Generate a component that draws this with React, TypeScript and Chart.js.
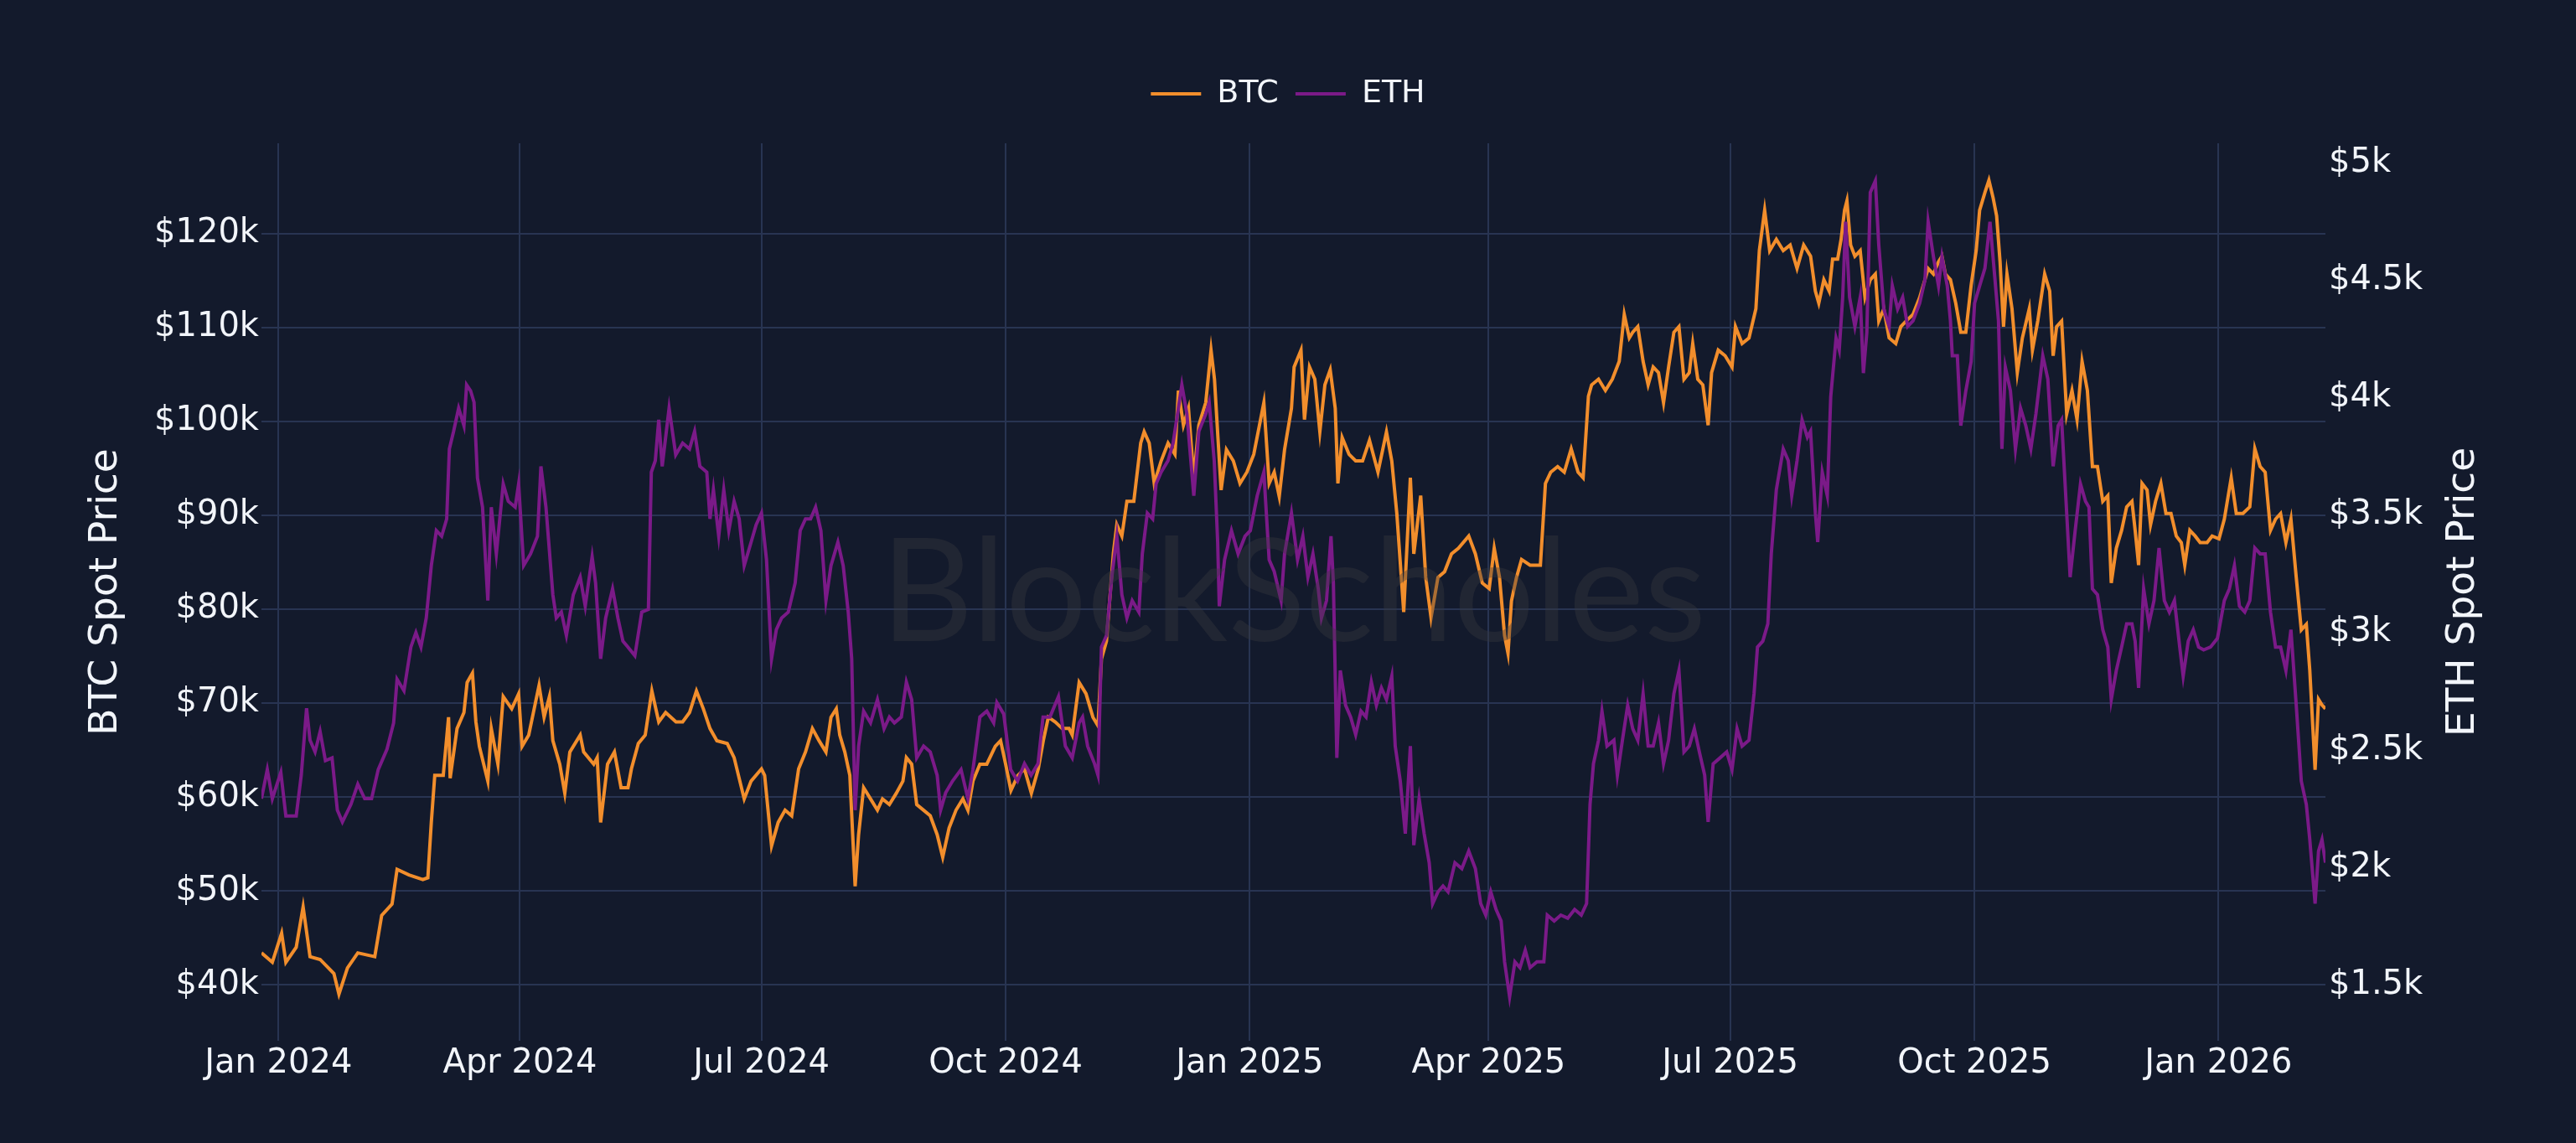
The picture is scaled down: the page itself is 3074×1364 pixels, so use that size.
import React, { useEffect, useRef } from "react";
import { Chart, registerables } from "chart.js";

Chart.register(...registerables);

// ---------------- data ----------------
// x values are days since 2024-01-01
const btcDays = [
  -6.4, -2.3, 1.2, 2.8, 6.7, 9.3, 11.9, 15.7, 20.9, 22.8, 26.0, 29.9, 36.3, 38.9, 42.8, 44.7, 49.2, 54.4, 56.3, 57.6,
  58.9, 62.1, 64.1, 64.7, 67.3, 69.9, 71.1, 73.1, 74.4, 75.7, 78.9, 80.2, 82.7, 84.7, 87.9, 90.5, 91.8, 94.3, 98.2, 100.1,
  102.1, 103.4, 106.0, 107.9, 109.8, 113.7, 115.0, 118.8, 120.1, 121.4, 124.0, 126.6, 129.1, 131.7, 133.0, 135.6, 138.2, 140.7, 143.3, 145.9,
  149.8, 152.3, 154.9, 157.5, 160.1, 162.6, 165.2, 169.1, 171.7, 175.5, 178.1, 182.0, 183.2, 185.8, 188.3, 190.9, 193.4, 196.0, 198.6, 201.2,
  203.7, 206.3, 208.2, 210.2, 211.5, 213.4, 215.3, 217.3, 218.6, 220.5, 223.1, 225.7, 227.6, 230.2, 232.8, 235.3, 236.6, 238.6, 240.5, 243.1,
  245.6, 248.2, 250.3, 252.7, 255.3, 257.9, 259.8, 261.7, 264.3, 266.9, 270.1, 272.1, 274.0, 276.0, 278.6, 281.1, 283.7, 286.3, 288.2, 290.1,
  292.7, 295.3, 297.9, 299.1, 301.7, 304.3, 306.9, 308.8, 310.1, 312.0, 314.6, 315.9, 317.8, 319.7, 322.3, 324.9, 326.2, 328.1, 330.0, 332.6,
  335.2, 337.8, 339.1, 341.0, 342.9, 344.9, 346.8, 349.4, 351.4, 352.7, 354.0, 355.2, 357.2, 359.8, 362.3, 364.9, 367.5, 371.3, 373.3, 375.2,
  377.1, 379.1, 381.7, 382.7, 385.3, 386.6, 388.5, 390.5, 392.4, 394.3, 396.3, 398.2, 399.2, 400.8, 403.4, 405.9, 408.5, 411.1, 414.3, 417.5,
  419.5, 421.4, 424.0, 426.5, 427.8, 430.4, 432.3, 434.3, 436.9, 439.4, 442.0, 444.6, 448.5, 451.0, 453.6, 456.2, 458.1, 460.1, 462.0, 463.3,
  464.6, 466.5, 468.4, 471.6, 475.5, 477.4, 479.4, 482.0, 484.5, 487.1, 489.7, 491.6, 493.6, 494.8, 497.4, 500.0, 502.6, 505.2, 507.1, 509.0,
  510.3, 512.2, 514.2, 516.1, 518.0, 520.0, 521.9, 523.8, 525.8, 527.7, 529.6, 531.6, 532.9, 534.8, 536.7, 538.7, 540.0, 542.5, 545.1, 547.7,
  549.0, 551.5, 554.1, 556.7, 558.0, 560.0, 561.9, 564.4, 567.0, 569.6, 572.2, 574.7, 577.3, 579.1, 580.4, 582.3, 584.3, 585.6, 587.5, 588.8,
  590.1, 591.0, 592.4, 594.0, 596.0, 597.8, 599.8, 601.7, 603.0, 604.9, 606.9, 609.4, 611.3, 613.3, 615.9, 618.4, 620.4, 621.6, 623.6, 625.5,
  626.8, 628.1, 630.0, 632.0, 633.9, 635.8, 637.8, 639.7, 641.0, 643.0, 644.5, 646.1, 647.4, 648.7, 650.0, 651.3, 653.2, 655.2, 657.1, 659.7,
  660.9, 662.9, 665.5, 667.4, 668.7, 670.0, 671.9, 673.8, 675.8, 677.7, 679.6, 681.6, 683.5, 685.4, 687.4, 689.3, 690.6, 692.5, 694.5, 696.4,
  698.4, 699.6, 700.9, 702.2, 704.1, 705.4, 707.3, 709.3, 711.2, 713.1, 715.1, 717.0, 718.3, 720.2, 722.2, 724.1, 726.7, 728.6, 731.2, 733.2,
  735.8, 737.7, 740.2, 742.8, 744.7, 746.7, 748.6, 750.6, 752.5, 754.4, 756.4, 758.3, 760.3, 762.2, 764.1, 765.4, 767.4, 768.7, 770.0, 771.3,
];
const btcPrices = [
  43400, 42400, 45500, 42400, 44000, 48300, 43000, 42700, 41200, 39000, 41800, 43400, 43000, 47400, 48600, 52300, 51700, 51200, 51400, 57300,
  62300, 62300, 68500, 62000, 67300, 69000, 72200, 73200, 68000, 65400, 61700, 67300, 63500, 70700, 69400, 71000, 65400, 66600, 71900, 68500,
  70700, 66000, 63500, 60400, 64800, 66600, 64800, 63500, 64200, 57300, 63500, 64800, 61000, 61000, 63000, 65700, 66600, 71300, 68000, 69000,
  68000, 68000, 69000, 71300, 69400, 67300, 66000, 65700, 64200, 59800, 61700, 63000, 62300, 54800, 57300, 58600, 58000, 63000, 64800, 67300,
  66000, 64800, 68500, 69400, 66600, 64800, 62300, 50500, 56000, 61000, 59800, 58600, 59800, 59200, 60400, 61700, 64200, 63500, 59200, 58600,
  58000, 56000, 53600, 56700, 58600, 59800, 58600, 61700, 63500, 63500, 65400, 66000, 63500, 60700, 62300, 63000, 60400, 63000, 66000, 68500,
  68000, 67300, 67300, 66600, 72200, 71000, 68500, 67600, 74700, 76600, 86000, 89000, 87800, 91500, 91500, 97700, 98900, 97700, 93400, 95800,
  97700, 96500, 103300, 99600, 101400, 94000, 99600, 102000, 107600, 104500, 98300, 92700, 97000, 95800, 93400, 94600, 96500, 102000, 93400, 94600,
  92000, 97000, 101400, 105800, 107600, 100200, 105800, 104500, 98900, 103900, 105500, 101400, 93400, 98300, 96500, 95800, 95800, 98000, 94600, 98900,
  95800, 90200, 79700, 94000, 85900, 92100, 83400, 79100, 83400, 84000, 85900, 86500, 87800, 85900, 82800, 82200, 86500, 83400, 77200, 75300,
  80900, 83400, 85300, 84700, 84700, 93400, 94600, 95200, 94600, 97100, 94600, 94000, 102700, 103900, 104500, 103300, 104500, 106400, 111400, 108900,
  109500, 110100, 106400, 103900, 105800, 105200, 102000, 105800, 109500, 110100, 104500, 105200, 108300, 104500, 103900, 99600, 105200, 107600, 107000, 105800,
  110100, 108300, 108900, 112000, 118200, 122500, 118200, 119400, 118200, 118800, 116300, 118800, 117600, 113900, 112600, 115100, 113900, 117300, 117300, 119400,
  122500, 123500, 118800, 117600, 118200, 113200, 115100, 115700, 110700, 112000, 108900, 108300, 110100, 110700, 111400, 113200, 115100, 116300, 115700, 117000,
  117600, 115700, 115100, 112600, 109500, 109500, 114500, 118200, 122500, 124400, 125700, 123800, 121900, 117000, 110100, 115700, 112000, 105200, 108900, 112000,
  107600, 110700, 115700, 113900, 107000, 110100, 110700, 100800, 103300, 100200, 106400, 103300, 95200, 95200, 91500, 92100, 82800, 86500, 88400, 90900,
  91500, 88400, 84700, 93400, 92700, 89000, 91500, 93400, 90200, 90200, 87800, 87100, 84700, 88400, 87800, 87100, 87100, 87800, 87500, 89600,
  94000, 90200, 90200, 90900, 97100, 95200, 94600, 88400, 89600, 90200, 87100, 89600, 83400, 77800, 78400, 73500, 62900, 70400, 69800, 69400,
];

const ethDays = [
  -6.4, -4.2, -2.3, 0.9, 2.8, 6.7, 8.6, 10.6, 11.9, 13.8, 15.7, 17.7, 20.2, 22.2, 24.1, 27.3, 29.9, 32.5, 35.1, 37.6,
  40.9, 43.4, 44.7, 47.3, 49.9, 51.8, 53.7, 55.7, 57.6, 59.5, 61.5, 63.4, 64.4, 66.0, 67.9, 69.9, 70.9, 72.4, 73.7, 75.0,
  76.9, 78.9, 80.2, 82.1, 84.7, 86.6, 89.2, 90.5, 92.4, 95.0, 97.6, 98.9, 100.8, 103.4, 104.7, 106.6, 108.5, 111.1, 113.7, 115.6,
  118.2, 119.5, 121.4, 123.3, 125.9, 127.9, 129.8, 131.7, 134.3, 136.9, 139.4, 140.5, 142.0, 143.3, 144.6, 147.2, 149.7, 152.3, 154.9, 156.8,
  158.8, 161.4, 162.6, 163.9, 165.9, 167.8, 169.7, 171.7, 173.6, 175.5, 178.1, 180.0, 182.0, 183.9, 185.8, 187.6, 189.6, 192.1, 194.7, 196.6,
  198.6, 200.5, 202.4, 204.4, 206.3, 208.2, 210.8, 212.8, 214.7, 216.0, 217.3, 218.6, 220.5, 223.1, 225.7, 228.2, 230.2, 232.1, 234.7, 236.6,
  238.6, 240.5, 243.1, 245.6, 248.2, 249.5, 251.4, 254.0, 257.2, 259.8, 261.7, 264.3, 266.9, 269.5, 270.7, 273.3, 275.9, 278.5, 281.1, 283.6,
  286.2, 288.1, 290.7, 293.9, 296.5, 299.1, 301.7, 303.0, 304.9, 307.5, 308.8, 310.1, 312.0, 314.0, 315.9, 317.8, 319.7, 321.7, 324.2, 325.5,
  327.4, 329.4, 330.7, 332.6, 335.2, 337.1, 339.1, 340.4, 342.3, 344.9, 346.8, 349.4, 350.7, 352.6, 353.9, 354.5, 356.5, 359.1, 361.6, 364.2,
  366.2, 368.8, 371.3, 373.3, 375.2, 377.8, 379.1, 381.7, 384.0, 386.0, 387.9, 389.8, 391.8, 393.0, 394.9, 396.6, 397.5, 398.8, 400.1, 402.1,
  404.0, 405.9, 407.9, 409.8, 411.8, 413.7, 415.6, 417.5, 419.5, 420.8, 422.7, 424.6, 426.5, 427.8, 429.8, 431.7, 433.6, 434.9, 436.9, 438.8,
  440.7, 443.3, 445.9, 448.5, 451.0, 453.0, 454.9, 456.8, 458.8, 460.7, 462.0, 463.9, 465.9, 467.8, 469.8, 471.6, 474.2, 476.8, 478.1, 480.7,
  483.2, 485.8, 488.4, 490.9, 492.9, 494.2, 495.5, 497.4, 498.7, 500.6, 503.2, 504.5, 506.4, 508.4, 510.3, 512.2, 514.2, 516.1, 518.0, 520.0,
  521.9, 523.8, 525.8, 527.7, 529.6, 531.6, 533.5, 535.4, 537.4, 538.7, 540.6, 543.2, 545.7, 547.7, 549.6, 551.5, 554.1, 556.0, 557.3, 559.3,
  561.2, 562.5, 564.4, 567.0, 568.9, 570.2, 572.2, 574.1, 576.1, 577.3, 579.1, 580.0, 581.7, 583.6, 584.9, 586.9, 588.1, 589.4, 590.5, 592.0,
  594.0, 596.0, 597.2, 598.5, 599.8, 601.7, 603.0, 604.9, 606.9, 608.1, 610.1, 612.0, 613.9, 615.9, 618.4, 620.4, 621.6, 623.6, 625.5, 626.8,
  628.8, 630.0, 630.7, 632.6, 633.9, 635.8, 637.8, 639.1, 641.0, 643.0, 644.9, 646.8, 648.1, 649.4, 650.7, 652.6, 654.5, 656.4, 658.4, 660.3,
  662.2, 664.8, 666.7, 668.7, 670.6, 671.9, 673.8, 675.1, 677.0, 679.0, 680.9, 682.2, 683.5, 685.4, 687.4, 689.3, 690.6, 692.5, 694.5, 696.4,
  698.4, 699.6, 700.9, 702.8, 704.8, 706.7, 708.6, 710.6, 712.5, 714.4, 716.4, 717.7, 719.6, 721.5, 723.5, 725.4, 728.0, 730.6, 733.2, 735.1,
  737.0, 738.9, 740.9, 742.8, 744.7, 746.7, 748.6, 750.6, 752.5, 754.4, 756.4, 758.3, 760.3, 762.2, 764.1, 765.4, 767.4, 768.7, 770.0, 771.3,
];
const ethPrices = [
  2293, 2417, 2293, 2405, 2219, 2219, 2393, 2678, 2542, 2492, 2579, 2455, 2467, 2244, 2194, 2268, 2355, 2293, 2293, 2417,
  2504, 2616, 2802, 2753, 2939, 3001, 2939, 3063, 3286, 3435, 3411, 3485, 3783, 3858, 3957, 3882, 4056, 4031, 3982, 3659,
  3535, 3137, 3535, 3336, 3634, 3560, 3535, 3634, 3286, 3336, 3411, 3709, 3535, 3162, 3063, 3088, 2988, 3162, 3237, 3113,
  3324, 3212, 2889, 3063, 3187, 3063, 2964, 2939, 2902, 3088, 3100, 3684, 3733, 3907, 3709, 3957, 3758, 3808, 3783, 3858,
  3709, 3684, 3485, 3609, 3411, 3609, 3435, 3560, 3485, 3286, 3386, 3460, 3510, 3311, 2889, 3013, 3063, 3088, 3212, 3435,
  3485, 3485, 3535, 3435, 3137, 3286, 3386, 3286, 3088, 2889, 2244, 2517, 2666, 2616, 2715, 2591, 2641, 2616, 2641, 2790,
  2715, 2467, 2517, 2492, 2393, 2244, 2318, 2368, 2417, 2293, 2417, 2641, 2666, 2616, 2703, 2653, 2417, 2368, 2442, 2393,
  2442, 2641, 2641, 2728, 2517, 2467, 2616, 2641, 2517, 2442, 2393, 2939, 2988, 3237, 3411, 3162, 3063, 3137, 3088, 3336,
  3510, 3485, 3634, 3684, 3733, 3808, 3957, 4056, 3932, 3584, 3858, 3932, 3982, 3733, 3386, 3113, 3311, 3435, 3336, 3411,
  3435, 3584, 3684, 3311, 3261, 3137, 3336, 3510, 3311, 3411, 3237, 3336, 3187, 3063, 3137, 3411, 3212, 2467, 2839, 2691,
  2641, 2566, 2666, 2641, 2790, 2691, 2765, 2715, 2815, 2517, 2368, 2144, 2517, 2095, 2293, 2144, 2020, 1846, 1896, 1921,
  1896, 2020, 1995, 2070, 1995, 1846, 1797, 1896, 1821, 1772, 1598, 1449, 1598, 1573, 1647, 1573, 1598, 1598, 1797, 1772,
  1797, 1784, 1821, 1797, 1846, 2268, 2442, 2542, 2666, 2517, 2542, 2393, 2542, 2691, 2591, 2542, 2740, 2517, 2517, 2616,
  2442, 2542, 2740, 2839, 2492, 2517, 2591, 2492, 2393, 2194, 2442, 2467, 2492, 2417, 2591, 2517, 2542, 2740, 2939, 2964,
  3038, 3336, 3609, 3783, 3733, 3584, 3733, 3907, 3833, 3858, 3510, 3386, 3684, 3584, 4006, 4255, 4205, 4429, 4751, 4429,
  4305, 4429, 4106, 4280, 4876, 4925, 4652, 4379, 4305, 4478, 4379, 4429, 4305, 4329, 4404, 4503, 4751, 4602, 4478, 4602,
  4478, 4329, 4180, 4180, 3882, 4031, 4155, 4404, 4478, 4553, 4751, 4503, 4329, 3783, 4131, 4031, 3783, 3957, 3882, 3783,
  3932, 4180, 4081, 3709, 3882, 3907, 3510, 3237, 3435, 3634, 3560, 3535, 3187, 3162, 3013, 2939, 2715, 2839, 2939, 3038,
  3038, 2964, 2765, 3187, 3038, 3137, 3361, 3137, 3088, 3137, 2939, 2815, 2964, 3013, 2939, 2927, 2939, 2976, 3137, 3187,
  3286, 3113, 3088, 3137, 3361, 3336, 3336, 3088, 2939, 2939, 2839, 3013, 2691, 2368, 2268, 2119, 1846, 2070, 2119, 2020,
];

const seriesNames = ["BTC", "ETH"];
const xTickDates = [
  "2024-01-01", "2024-04-01", "2024-07-01", "2024-10-01", "2025-01-01",
  "2025-04-01", "2025-07-01", "2025-10-01", "2026-01-01",
];
const xTickLabels = [
  "Jan 2024", "Apr 2024", "Jul 2024", "Oct 2024", "Jan 2025",
  "Apr 2025", "Jul 2025", "Oct 2025", "Jan 2026",
];
const btcTickValues = [40000, 50000, 60000, 70000, 80000, 90000, 100000, 110000, 120000];
const ethTickValues = [1500, 2000, 2500, 3000, 3500, 4000, 4500, 5000];
const btcAxisRange = [34040, 129630];
const ethAxisRange = [1261.6, 5085.2];
const axisTitles = ["BTC Spot Price", "ETH Spot Price"];
const watermarkText = "BlockScholes";

// ---------------- style ----------------
const W = 3074;
const H = 1364;
const BG = "#131a2c";
const GRID = "#283452";
const TEXT = "#f2f5fa";
const BTC_COLOR = "#f28e2c";
const ETH_COLOR = "#7b1a88";
const FONT = '"DejaVu Sans", Verdana, sans-serif';

const dayOf = (s: string) => (Date.parse(s) - Date.parse("2024-01-01")) / 86400000;
const xTickDays = xTickDates.map(dayOf);
const fmtK = (v: number) => "$" + String(Math.round((v / 1000) * 10) / 10) + "k";

const bgPlugin = {
  id: "bgFill",
  beforeDraw(chart: any) {
    const ctx = chart.ctx;
    ctx.save();
    ctx.fillStyle = BG;
    ctx.fillRect(0, 0, chart.width, chart.height);
    ctx.restore();
  },
};

const watermarkPlugin = {
  id: "watermark",
  afterDatasetsDraw(chart: any) {
    const ctx = chart.ctx;
    const ca = chart.chartArea;
    const cw = ca.right - ca.left;
    const ch = ca.bottom - ca.top;
    ctx.save();
    let size = 160;
    ctx.font = `${size}px Lato, "Liberation Sans", sans-serif`;
    const w = ctx.measureText(watermarkText).width;
    size = (size * 0.4 * cw) / w;
    ctx.font = `${size}px Lato, "Liberation Sans", sans-serif`;
    ctx.fillStyle = "rgba(58,58,62,0.38)";
    ctx.textAlign = "center";
    ctx.textBaseline = "alphabetic";
    ctx.fillText(watermarkText, ca.left + 0.5 * cw, ca.top + 0.555 * ch);
    ctx.restore();
  },
};

const axisTitlePlugin = {
  id: "axisTitles",
  afterDraw(chart: any) {
    const ctx = chart.ctx;
    const ca = chart.chartArea;
    const cy = (ca.top + ca.bottom) / 2;
    ctx.save();
    ctx.font = `47px ${FONT}`;
    ctx.fillStyle = TEXT;
    ctx.textAlign = "center";
    ctx.textBaseline = "alphabetic";
    const draw = (text: string, x: number) => {
      ctx.save();
      ctx.translate(x, cy);
      ctx.rotate(-Math.PI / 2);
      ctx.fillText(text, 0, 0);
      ctx.restore();
    };
    draw(axisTitles[0], chart.scales.y.left + 139);
    draw(axisTitles[1], chart.scales.y1.left + 177);
    ctx.restore();
  },
};

export default function App() {
  const ref = useRef<HTMLCanvasElement | null>(null);

  useEffect(() => {
    const canvas = ref.current;
    if (!canvas) return;
    const chart = new Chart(canvas, {
      type: "line",
      data: {
        datasets: [
          {
            label: seriesNames[0],
            data: btcDays.map((d, i) => ({ x: d, y: btcPrices[i] })),
            borderColor: BTC_COLOR,
            backgroundColor: BTC_COLOR,
            borderWidth: 4,
            pointRadius: 0,
            tension: 0,
            xAxisID: "x",
            yAxisID: "y",
            order: 1,
          },
          {
            label: seriesNames[1],
            data: ethDays.map((d, i) => ({ x: d, y: ethPrices[i] })),
            borderColor: ETH_COLOR,
            backgroundColor: ETH_COLOR,
            borderWidth: 4,
            pointRadius: 0,
            tension: 0,
            xAxisID: "x",
            yAxisID: "y1",
            order: 0,
          },
        ],
      },
      options: {
        animation: false,
        responsive: false,
        devicePixelRatio: 1,
        events: [],
        layout: { padding: { top: 73, left: 0, right: 0, bottom: 0 } },
        plugins: {
          tooltip: { enabled: false },
          legend: {
            display: true,
            position: "top",
            align: "center",
            labels: {
              color: TEXT,
              font: { family: FONT, size: 38 },
              usePointStyle: true,
              pointStyle: "line",
              pointStyleWidth: 60,
              padding: 20,
              sort: (a: any, b: any) => a.datasetIndex - b.datasetIndex,
            },
          },
        },
        scales: {
          x: {
            type: "linear",
            position: "bottom",
            min: btcDays[0],
            max: btcDays[btcDays.length - 1],
            afterBuildTicks: (s: any) => {
              s.ticks = xTickDays.map((v) => ({ value: v }));
            },
            afterFit: (s: any) => {
              s.height = 122;
            },
            ticks: {
              color: TEXT,
              font: { family: FONT, size: 40 },
              padding: 4,
              maxRotation: 0,
              autoSkip: false,
              callback: (_v: any, i: number) => xTickLabels[i],
            },
            grid: { color: GRID, lineWidth: 2, drawTicks: false },
            border: { display: false },
          },
          xTop: {
            type: "linear",
            position: "top",
            display: true,
            afterFit: (s: any) => {
              s.height = 30;
            },
            ticks: { display: false },
            grid: { display: false, drawTicks: false },
            border: { display: false },
          },
          y: {
            type: "linear",
            position: "left",
            min: btcAxisRange[0],
            max: btcAxisRange[1],
            afterBuildTicks: (s: any) => {
              s.ticks = btcTickValues.map((v) => ({ value: v }));
            },
            afterFit: (s: any) => {
              s.width = 312;
            },
            ticks: {
              color: TEXT,
              font: { family: FONT, size: 40 },
              padding: 3,
              callback: (v: any) => fmtK(Number(v)),
            },
            grid: { color: GRID, lineWidth: 2, drawTicks: false },
            border: { display: false },
          },
          y1: {
            type: "linear",
            position: "right",
            min: ethAxisRange[0],
            max: ethAxisRange[1],
            afterBuildTicks: (s: any) => {
              s.ticks = ethTickValues.map((v) => ({ value: v }));
            },
            afterFit: (s: any) => {
              s.width = W - 2775;
            },
            ticks: {
              color: TEXT,
              font: { family: FONT, size: 40 },
              padding: 4,
              callback: (v: any) => fmtK(Number(v)),
            },
            grid: { display: false, drawTicks: false },
            border: { display: false },
          },
        },
      } as any,
      plugins: [bgPlugin, watermarkPlugin, axisTitlePlugin],
    });
    return () => chart.destroy();
  }, []);

  return (
    <div style={{ width: W, height: H, background: BG, overflow: "hidden" }}>
      <style>{`html,body{margin:0;padding:0;background:${BG};}`}</style>
      <canvas ref={ref} width={W} height={H} style={{ display: "block", width: W, height: H }} />
    </div>
  );
}
